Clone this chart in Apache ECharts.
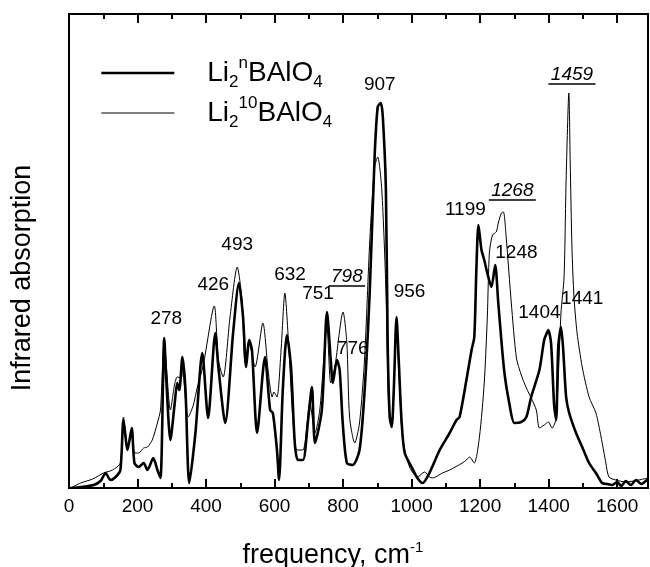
<!DOCTYPE html>
<html>
<head>
<meta charset="utf-8">
<script src="https://cdn.jsdelivr.net/npm/echarts@6/dist/echarts.min.js"></script>
<style>
html, body { margin: 0; padding: 0; background: #fff; }
#chart { width: 650px; height: 567px; }
</style>
</head>
<body>
<div id="chart"></div>
<script>
// [frequency cm-1, absorption (arb. units)]
var spectrumN = [
    [5,0],[34,1],[72,3],[92,7],[107,15],[121,8],[136,11],[150,18],[159,68],[171,38],
    [183,60],[191,25],[203,21],[218,25],[229,18],[246,30],[258,18],[267,10],[278,150],[284,108],
    [296,48],[308,83],[316,105],[322,98],[331,131],[340,98],[351,5],[369,55],[389,135],[406,70],
    [427,155],[436,121],[456,65],[479,155],[496,205],[508,171],[517,121],[526,148],[534,138],[549,55],
    [572,131],[587,78],[595,75],[607,38],[613,8],[624,98],[636,153],[648,121],[659,45],[668,28],
    [683,28],[697,65],[709,101],[718,45],[738,78],[753,176],[764,128],[770,105],[782,128],[790,118],
    [799,65],[811,25],[828,23],[848,38],[863,98],[878,198],[892,331],[901,381],[910,385],[916,371],
    [925,298],[930,148],[936,71],[942,61],[948,98],[956,171],[962,131],[971,65],[980,35],[1000,21],
    [1017,10],[1032,5],[1052,15],[1082,38],[1111,55],[1131,68],[1140,71],[1160,108],[1175,138],[1183,151],
    [1189,218],[1195,263],[1204,238],[1212,228],[1221,215],[1233,201],[1244,223],[1253,185],[1270,118],[1285,85],
    [1300,65],[1320,66],[1335,71],[1349,91],[1373,118],[1387,148],[1396,156],[1399,158],[1407,145],[1416,83],
    [1422,68],[1428,141],[1436,161],[1442,141],[1451,91],[1460,75],[1480,55],[1498,41],[1518,25],[1538,15],
    [1556,5],[1570,4],[1585,3],[1600,6],[1612,2],[1625,7],[1640,3],[1655,8],[1670,4],[1690,9]
];
var spectrum10 = [
    [5,0],[34,5],[69,9],[101,15],[127,18],[150,25],[159,71],[171,41],[183,58],[191,35],
    [203,35],[218,40],[229,41],[243,48],[258,65],[267,78],[278,148],[284,123],[296,78],[308,103],
    [316,111],[328,110],[331,125],[340,88],[348,71],[363,83],[374,100],[392,123],[424,182],[436,128],
    [450,111],[470,171],[491,221],[505,188],[514,125],[526,145],[543,121],[566,165],[581,118],[593,91],
    [598,96],[607,91],[619,138],[630,195],[642,138],[653,71],[665,38],[683,38],[703,85],[718,55],
    [732,78],[753,161],[764,105],[776,121],[800,176],[811,145],[819,71],[834,45],[848,65],[863,131],
    [878,248],[892,321],[901,331],[913,298],[925,198],[933,81],[942,68],[948,98],[956,165],[962,121],
    [974,48],[994,21],[1017,11],[1038,16],[1052,11],[1061,10],[1090,15],[1111,18],[1148,25],[1160,28],
    [1169,31],[1183,25],[1198,51],[1212,105],[1221,171],[1227,235],[1236,253],[1247,256],[1253,265],[1262,275],
    [1268,276],[1276,251],[1291,185],[1306,130],[1320,113],[1335,100],[1349,90],[1364,78],[1373,60],[1387,63],
    [1399,66],[1410,60],[1422,70],[1436,175],[1445,211],[1451,308],[1459,395],[1463,325],[1468,241],[1474,191],
    [1483,155],[1498,121],[1518,91],[1538,75],[1553,51],[1567,25],[1576,11],[1596,8],[1625,6],[1663,8],
    [1690,10]
];

// peak annotations: text, where it sits [freq, height], underlined+italic
var peakText = ['278','426','493','632','751','798','776','907','956','1199','1268','1248','1404','1441','1459'];
var peakPos = [
    [284,169],[421,203],[491,243],[645,213],[727,194],[811,211],[828,139],[907,403],
    [994,196],[1157,278],[1294,297],[1306,235],[1373,175],[1498,189],[1468,413]
];
var peakUnder = [0,0,0,0,0,1,0,0,0,0,1,0,0,0,1];

var FONT = '"Liberation Sans", Arial, sans-serif';

var chart = echarts.init(document.getElementById('chart'), null, {renderer: 'canvas'});

var richLegend = {
    a: {fontSize: 28, fontFamily: FONT, color: '#000', lineHeight: 36, padding: [0, 0, 0, 28]},
    b: {fontSize: 28, fontFamily: FONT, color: '#000', lineHeight: 36},
    sub: {fontSize: 17, fontFamily: FONT, color: '#000', lineHeight: 16, verticalAlign: 'bottom'},
    sup: {fontSize: 17, fontFamily: FONT, color: '#000', lineHeight: 18, verticalAlign: 'top'}
};

chart.setOption({
    animation: false,
    backgroundColor: '#fff',
    grid: {
        left: 69, right: 2, top: 14, bottom: 79,
        outerBoundsMode: 'none',
        containLabel: false,
        show: true, borderColor: '#000', borderWidth: 2
    },
    legend: {
        orient: 'vertical',
        left: 100, top: 55, padding: 0,
        itemWidth: 73, itemHeight: 14, itemGap: 4,
        itemStyle: {opacity: 0},
        data: [
            {name: 'n', lineStyle: {width: 2.6, color: '#000'}},
            {name: '10', lineStyle: {width: 1, color: '#000'}}
        ],
        formatter: function (name) {
            if (name === 'n') return '{a|Li}{sub|2}{sup|n}{b|BAlO}{sub|4}';
            return '{a|Li}{sub|2}{sup|10}{b|BAlO}{sub|4}';
        },
        textStyle: {rich: richLegend}
    },
    xAxis: [{
        type: 'value', min: 0, max: 1690, interval: 200,
        position: 'bottom',
        name: '{t|frequency, cm}{s|-1}',
        nameLocation: 'middle', nameGap: 52,
        nameTextStyle: {
            padding: [0, 51, 0, 0],
            rich: {
                t: {fontSize: 27, fontFamily: FONT, color: '#000', lineHeight: 32},
                s: {fontSize: 15, fontFamily: FONT, color: '#000', lineHeight: 16, verticalAlign: 'top'}
            }
        },
        axisLine: {lineStyle: {color: '#000', width: 2}},
        axisTick: {inside: true, length: 9, lineStyle: {color: '#000', width: 2}},
        minorTick: {show: true, splitNumber: 2, length: 5, lineStyle: {color: '#000', width: 2}},
        axisLabel: {
            color: '#000', fontSize: 19, fontFamily: FONT, margin: 9,
            showMaxLabel: false,
            formatter: function (v) { return String(v); }
        },
        splitLine: {show: false}
    }, {
        type: 'value', min: 0, max: 1690, interval: 200,
        position: 'top',
        axisLine: {lineStyle: {color: '#000', width: 2}},
        axisTick: {inside: true, length: 9, lineStyle: {color: '#000', width: 2}},
        minorTick: {show: true, splitNumber: 2, length: 5, lineStyle: {color: '#000', width: 2}},
        axisLabel: {show: false},
        splitLine: {show: false}
    }],
    yAxis: {
        type: 'value', min: 0, max: 474,
        name: 'Infrared absorption',
        nameLocation: 'middle', nameGap: 33,
        nameTextStyle: {fontSize: 27, fontFamily: FONT, color: '#000', padding: [0, 54, 0, 0]},
        axisLine: {show: true, lineStyle: {color: '#000', width: 2}},
        axisTick: {show: false},
        axisLabel: {show: false},
        splitLine: {show: false}
    },
    series: [{
        name: 'n',
        type: 'line',
        data: spectrumN,
        symbol: 'none',
        smooth: 0.25,
        lineStyle: {color: '#000', width: 2.6},
        itemStyle: {color: '#000'},
        z: 3
    }, {
        name: '10',
        type: 'line',
        data: spectrum10,
        symbol: 'none',
        smooth: 0.25,
        lineStyle: {color: '#000', width: 1},
        itemStyle: {color: '#000'},
        z: 2
    }, {
        name: 'peaks',
        type: 'custom',
        data: peakPos,
        silent: true,
        clip: false,
        z: 5,
        renderItem: function (params, api) {
            var p = api.coord([api.value(0), api.value(1)]);
            var txt = peakText[params.dataIndex];
            var u = peakUnder[params.dataIndex];
            var kids = [{
                type: 'text', x: p[0], y: p[1],
                style: {
                    text: txt, fill: '#000',
                    font: (u ? 'italic ' : '') + '19px ' + FONT,
                    align: 'center', verticalAlign: 'middle'
                }
            }];
            if (u) {
                var w = txt.length * 10.5 + 5;
                kids.push({
                    type: 'line',
                    shape: {x1: p[0] - w / 2, y1: p[1] + 9, x2: p[0] + w / 2, y2: p[1] + 9},
                    style: {stroke: '#000', lineWidth: 1.5}
                });
            }
            return {type: 'group', children: kids};
        }
    }]
});
</script>
</body>
</html>
